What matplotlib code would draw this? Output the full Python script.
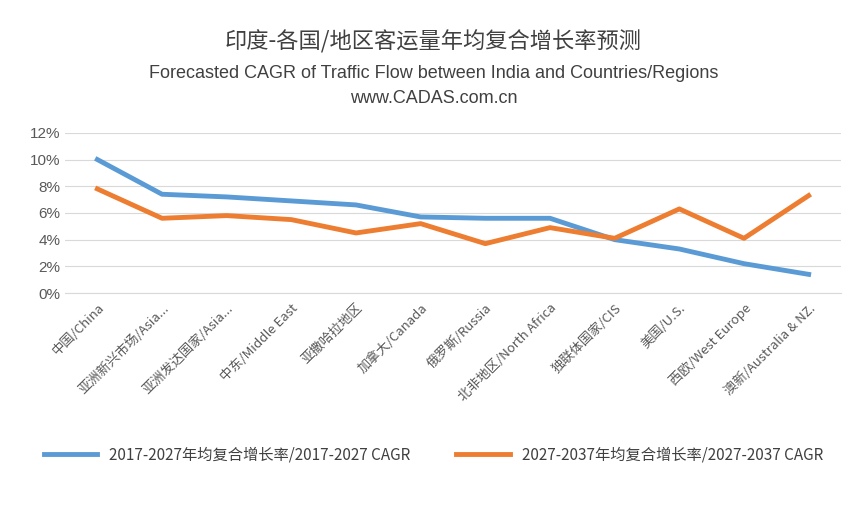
import matplotlib.pyplot as plt

plt.rcParams['font.family'] = ['Noto Sans CJK SC', 'DejaVu Sans']

categories = ['中国/China', '亚洲新兴市场/Asia...', '亚洲发达国家/Asia...', '中东/Middle East',
              '亚撒哈拉地区', '加拿大/Canada', '俄罗斯/Russia', '北非地区/North Africa',
              '独联体国家/CIS', '美国/U.S.', '西欧/West Europe', '澳新/Australia & NZ.']
cagr_2017 = [10.0, 7.4, 7.2, 6.9, 6.6, 5.7, 5.6, 5.6, 4.0, 3.3, 2.2, 1.4]
cagr_2027 = [7.8, 5.6, 5.8, 5.5, 4.5, 5.2, 3.7, 4.9, 4.1, 6.3, 4.1, 7.3]

fig = plt.figure(figsize=(8.67, 5.07), dpi=100)
ax = fig.add_axes([0.075, 0.422, 0.895, 0.316])

x = range(len(categories))
ax.plot(x, cagr_2017, color='#5b9bd5', lw=3.5, label='2017-2027年均复合增长率/2017-2027 CAGR')
ax.plot(x, cagr_2027, color='#ed7d31', lw=3.5, label='2027-2037年均复合增长率/2027-2037 CAGR')

ax.set_ylim(0, 12)
ax.set_xlim(-0.5, len(categories) - 0.5)
ax.set_yticks(range(0, 13, 2))
ax.set_yticklabels([f'{v}%' for v in range(0, 13, 2)], fontsize=11, color='#595959',
                   family=['Liberation Sans'])
ax.set_xticks(list(x))
ax.set_xticklabels(categories, rotation=45, ha='right', rotation_mode='anchor',
                   fontsize=9.5, color='#595959')
ax.grid(axis='y', color='#d9d9d9', lw=0.8)
for s in ['top', 'right', 'left']:
    ax.spines[s].set_visible(False)
ax.spines['bottom'].set_color('#d9d9d9')
ax.tick_params(length=0)
ax.tick_params(axis='x', pad=6)

fig.text(0.5, 0.905, '印度-各国/地区客运量年均复合增长率预测', ha='center', fontsize=16, color='#404040')
fig.text(0.5, 0.847, 'Forecasted CAGR of Traffic Flow between India and Countries/Regions',
         ha='center', fontsize=13, color='#404040', family=['Liberation Sans'])
fig.text(0.5, 0.797, 'www.CADAS.com.cn', ha='center', fontsize=13, color='#404040',
         family=['Liberation Sans'])

fig.legend(loc='center', bbox_to_anchor=(0.5, 0.103), ncol=2, frameon=False,
           fontsize=11, labelcolor='#404040', handlelength=3.5, columnspacing=3)

fig.savefig('out.png', dpi=100)
